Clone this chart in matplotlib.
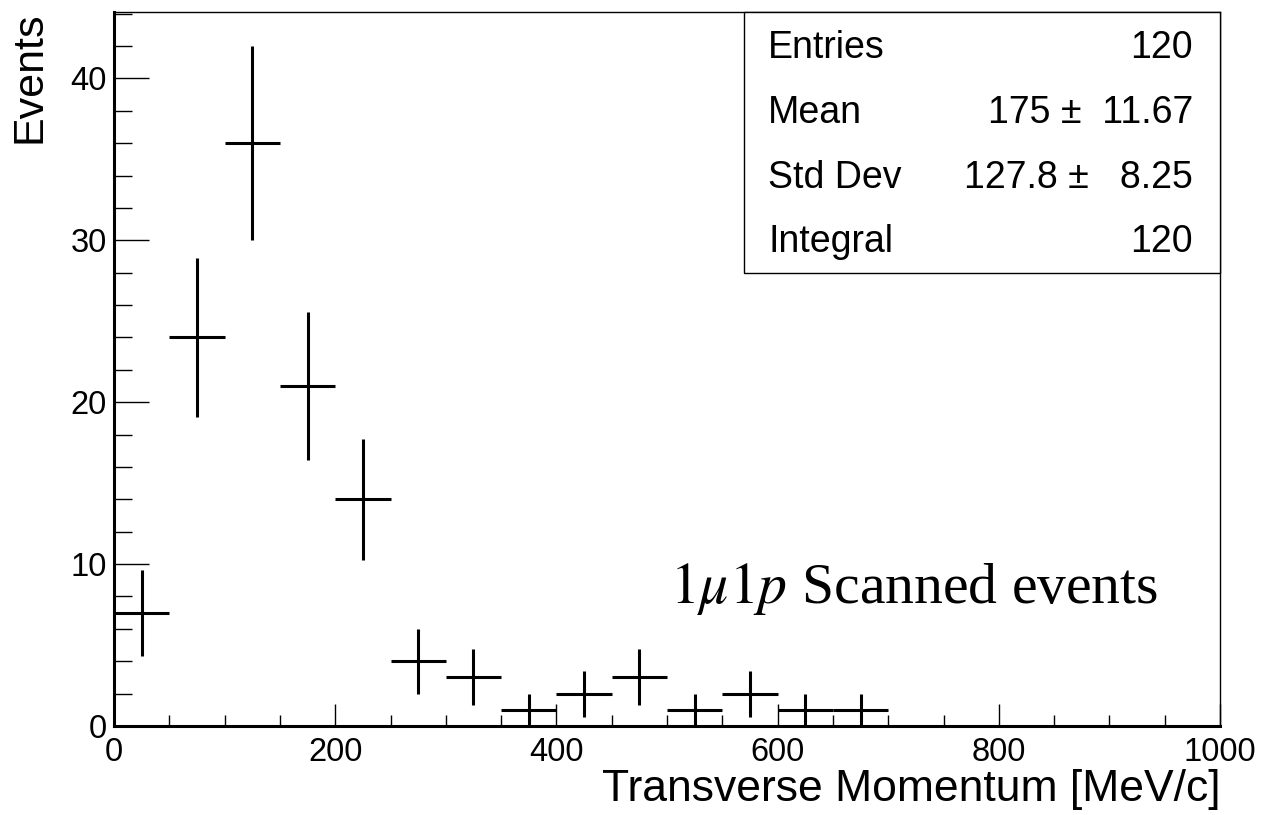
import numpy as np
import matplotlib
matplotlib.use("Agg")
import matplotlib.pyplot as plt
from matplotlib.patches import Rectangle
from matplotlib.ticker import MultipleLocator

# Histogram contents: 50 MeV/c bins from 0 to 1000
bin_edges = np.arange(0, 1050, 50)
counts = [7, 24, 36, 21, 14, 4, 3, 1, 2, 3, 1, 2, 1, 1, 0, 0, 0, 0, 0, 0]

stat_names = ["Entries", "Mean", "Std Dev", "Integral"]
stat_values = ["120", "175 \u00b1  11.67", "127.8 \u00b1   8.25", "120"]

plt.rcParams["font.family"] = ["Liberation Sans", "DejaVu Sans"]
plt.rcParams["mathtext.fontset"] = "stix"

W, H = 1262, 815
fig = plt.figure(figsize=(W / 100, H / 100), dpi=100)
L, R, T, B = 114, 1220, 12, 726
ax = fig.add_axes([L / W, 1 - B / H, (R - L) / W, (B - T) / H])

centers = 0.5 * (bin_edges[:-1] + bin_edges[1:])
half = 0.5 * np.diff(bin_edges)
c = np.array(counts, dtype=float)
m = c > 0
ax.errorbar(centers[m], c[m], xerr=half[m], yerr=np.sqrt(c[m]),
            fmt="none", ecolor="black", elinewidth=2.2, capsize=0)

ax.set_xlim(0, 1000)
ax.set_ylim(0, 44.1)

ax.xaxis.set_major_locator(MultipleLocator(200))
ax.xaxis.set_minor_locator(MultipleLocator(50))
ax.yaxis.set_major_locator(MultipleLocator(10))
ax.yaxis.set_minor_locator(MultipleLocator(2))
ax.tick_params(axis="both", which="both", direction="in", top=False, right=False,
               width=1.0, colors="black")
ax.tick_params(axis="y", which="major", length=25, pad=5, labelsize=23.5)
ax.tick_params(axis="y", which="minor", length=13)
ax.tick_params(axis="x", which="major", length=16, pad=8, labelsize=23.5)
ax.tick_params(axis="x", which="minor", length=8)

for side in ("left", "bottom"):
    ax.spines[side].set_linewidth(2.2)
for side in ("top", "right"):
    ax.spines[side].set_linewidth(1.0)

ax.set_xlabel("Transverse Momentum [MeV/c]", fontsize=32, loc="right", labelpad=1)
ax.set_ylabel("Events", fontsize=31, loc="top", labelpad=15)

# Statistics box
bx0 = (744 - L) / (R - L)
by0 = (B - 273) / (B - T)
ax.add_patch(Rectangle((bx0, by0), 1 - bx0, 1 - by0, transform=ax.transAxes,
                       facecolor="white", edgecolor="black", linewidth=1.0,
                       zorder=5, clip_on=False))
baselines = [58, 123, 188, 252]
for name, val, yp in zip(stat_names, stat_values, baselines):
    ty = (B - yp) / (B - T)
    ax.text((768 - L) / (R - L), ty, name, transform=ax.transAxes,
            fontsize=27, ha="left", va="baseline", zorder=6)
    ax.text((1193 - L) / (R - L), ty, val, transform=ax.transAxes,
            fontsize=27, ha="right", va="baseline", zorder=6)

ax.text((670 - L) / (R - L), (B - 603) / (B - T), r"$1\mu 1p$ Scanned events",
        transform=ax.transAxes, fontsize=41.5, ha="left", va="baseline",
        family=["Liberation Serif", "DejaVu Serif"])

fig.savefig("out.png", dpi=100)
